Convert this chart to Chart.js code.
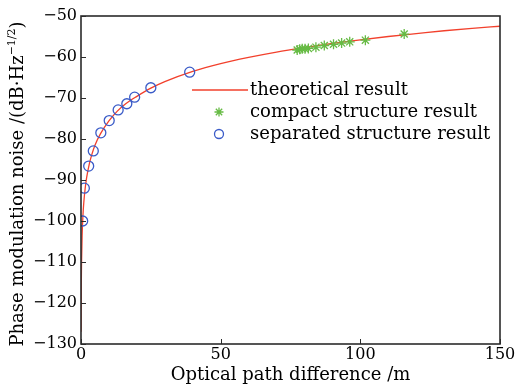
<!doctype html>
<html lang="en">
<head>
<meta charset="utf-8">
<title>Phase modulation noise</title>
<script src="https://cdn.jsdelivr.net/npm/chart.js"></script>
<style>
  html, body { margin: 0; padding: 0; background: #fff; }
</style>
</head>
<body>
<canvas id="noiseChart" width="516" height="392"></canvas>
<script>
// theoretical curve
const theoryX = [0.03, 0.1, 0.2, 0.4, 0.7, 1, 1.5, 2, 3, 4, 5, 7, 10, 13, 16, 20, 25, 30, 40, 50, 60, 70, 80, 90, 100, 110, 120, 130, 140, 150];
const theoryY = [-127, -116, -110, -103.5, -98.6, -95.5, -92, -89.5, -86, -83.5, -81.5, -78.7, -75.6, -73.2, -71.4, -69.6, -67.6, -66, -63.5, -61.6, -60.1, -58.8, -57.7, -56.7, -55.8, -55, -54.3, -53.6, -53, -52.5];

// compact structure (green stars)
const compactX = [77.4, 78.3, 79.2, 80.2, 81.4, 84.1, 87.1, 90.4, 93.3, 96.2, 101.8, 115.7];
const compactY = [-58.3, -58.1, -58.0, -58.0, -57.9, -57.6, -57.2, -56.9, -56.6, -56.3, -55.9, -54.4];

// separated structure (blue circles)
const separatedX = [0.6, 1.2, 2.75, 4.4, 7.1, 10.1, 13.3, 16.4, 19.2, 25, 38.9];
const separatedY = [-100, -92, -86.6, -82.9, -78.5, -75.5, -72.9, -71.4, -69.8, -67.5, -63.7];

const legendLabels = ['theoretical result', 'compact structure result', 'separated structure result'];

const RED = '#f2402c', GREEN = '#66bb44', BLUE = '#3a5bc8';
const FONT = "'DejaVu Serif', serif";
const INK = '#000';

function pts(xs, ys) { return xs.map((x, i) => ({ x: x, y: ys[i] })); }
function minus(v) { return String(v).replace('-', '\u2212'); }

// frame, inward ticks, y title with superscript, legend
const decor = {
  id: 'decor',
  afterDraw(chart) {
    const ctx = chart.ctx, a = chart.chartArea;
    const xs = chart.scales.x, ys = chart.scales.y;
    ctx.save();
    ctx.strokeStyle = '#2b2b2b';
    ctx.lineWidth = 1.6;
    ctx.strokeRect(a.left, a.top, a.right - a.left, a.bottom - a.top);
    ctx.lineWidth = 1;
    ctx.beginPath();
    xs.ticks.forEach(t => {
      const p = Math.round(xs.getPixelForValue(t.value)) + 0.5;
      ctx.moveTo(p, a.bottom); ctx.lineTo(p, a.bottom - 5);
    });
    ys.ticks.forEach(t => {
      const p = Math.round(ys.getPixelForValue(t.value)) + 0.5;
      ctx.moveTo(a.left, p); ctx.lineTo(a.left + 5, p);
    });
    ctx.stroke();

    // y axis title
    ctx.fillStyle = INK;
    ctx.translate(18, (a.top + a.bottom) / 2 + 4);
    ctx.rotate(-Math.PI / 2);
    ctx.textBaseline = 'middle';
    const big = '18px ' + FONT, small = '11px ' + FONT;
    const p1 = 'Phase modulation noise /(dB\u00b7Hz', sup = '\u22121/2', p3 = ')';
    ctx.font = big; const w1 = ctx.measureText(p1).width, w3 = ctx.measureText(p3).width;
    ctx.font = small; const w2 = ctx.measureText(sup).width;
    let x0 = -(w1 + w2 + w3) / 2;
    ctx.font = big; ctx.fillText(p1, x0, 0);
    ctx.font = small; ctx.fillText(sup, x0 + w1, -6);
    ctx.font = big; ctx.fillText(p3, x0 + w1 + w2, 0);
    ctx.restore();

    // legend
    ctx.save();
    ctx.font = '18px ' + FONT;
    ctx.fillStyle = INK;
    ctx.textBaseline = 'middle';
    const lx = 250, rows = [90, 112, 134];
    ctx.strokeStyle = RED; ctx.lineWidth = 1.3;
    ctx.beginPath(); ctx.moveTo(192, rows[0]); ctx.lineTo(248, rows[0]); ctx.stroke();
    ctx.strokeStyle = GREEN;
    Chart.helpers.drawPoint(ctx, { pointStyle: 'star', radius: 4.5, borderWidth: 1.3 }, 219, rows[1]);
    ctx.strokeStyle = BLUE;
    ctx.beginPath(); ctx.arc(219, rows[2], 4.5, 0, Math.PI * 2); ctx.stroke();
    legendLabels.forEach((t, i) => ctx.fillText(t, lx, rows[i]));
    ctx.restore();
  }
};

new Chart(document.getElementById('noiseChart'), {
  type: 'scatter',
  data: {
    datasets: [{
      label: legendLabels[0],
      data: pts(theoryX, theoryY),
      showLine: true,
      borderColor: RED,
      borderWidth: 1.3,
      pointRadius: 0,
      cubicInterpolationMode: 'monotone',
      order: 3
    }, {
      label: legendLabels[1],
      data: pts(compactX, compactY),
      pointStyle: 'star',
      pointRadius: 5,
      borderColor: GREEN,
      borderWidth: 1.3,
      order: 1
    }, {
      label: legendLabels[2],
      data: pts(separatedX, separatedY),
      pointStyle: 'circle',
      pointRadius: 5,
      backgroundColor: 'rgba(0,0,0,0)',
      borderColor: BLUE,
      borderWidth: 1.3,
      order: 2
    }]
  },
  options: {
    responsive: false,
    animation: false,
    events: [],
    layout: { padding: { top: 16, right: 16, left: 0, bottom: 0 } },
    plugins: { legend: { display: false }, tooltip: { enabled: false } },
    scales: {
      x: {
        min: 0, max: 150,
        grid: { display: false, drawTicks: false },
        border: { display: false },
        ticks: { stepSize: 50, padding: 1, color: INK, font: { family: FONT, size: 16 }, maxRotation: 0 },
        title: { display: true, text: 'Optical path difference /m', color: INK, font: { family: FONT, size: 18 }, padding: { top: 0, bottom: 6 } },
        afterFit(s) { s.height = 48; s.paddingLeft = 0; s.paddingRight = 0; }
      },
      y: {
        min: -130, max: -50,
        grid: { display: false, drawTicks: false },
        border: { display: false },
        ticks: { stepSize: 10, padding: 4, color: INK, font: { family: FONT, size: 16 }, callback: v => minus(v) },
        afterFit(s) { s.width = 81; s.paddingTop = 0; s.paddingBottom = 0; }
      }
    }
  },
  plugins: [decor]
});
</script>
</body>
</html>
